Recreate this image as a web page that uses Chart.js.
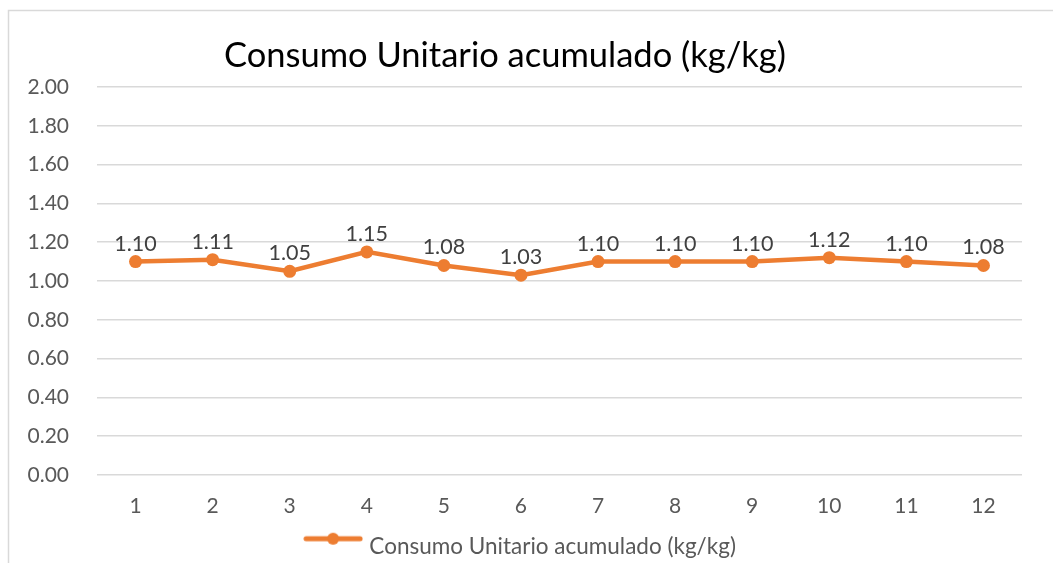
<!DOCTYPE html>
<html>
<head>
<meta charset="utf-8">
<script src="https://cdn.jsdelivr.net/npm/chart.js@4/dist/chart.umd.min.js"></script>
<style>
  html, body { margin: 0; padding: 0; background: #ffffff; }
  #wrap { width: 1053px; height: 563px; position: relative; overflow: hidden; }
</style>
</head>
<body>
<div id="wrap"><canvas id="c" width="1053" height="563"></canvas></div>
<script>
// Monthly accumulated unit consumption (kg/kg)
const categories = ['1', '2', '3', '4', '5', '6', '7', '8', '9', '10', '11', '12'];
const consumo = [1.10, 1.11, 1.05, 1.15, 1.08, 1.03, 1.10, 1.10, 1.10, 1.12, 1.10, 1.08];
const seriesName = 'Consumo Unitario acumulado (kg/kg)';
const chartTitle = 'Consumo Unitario acumulado (kg/kg)';
const yMin = 0, yMax = 2, yStep = 0.2;

const ORANGE = '#ED7D31';
const GRID = '#d9d9d9';
const FONT = 'Lato, "Open Sans", sans-serif';

// legend swatch: short line with a dot, drawn a little above the image centre
function legendSwatch() {
  const c = document.createElement('canvas');
  c.width = 60; c.height = 30;
  const g = c.getContext('2d');
  g.strokeStyle = ORANGE; g.lineWidth = 5; g.lineCap = 'round';
  g.beginPath(); g.moveTo(3, 7); g.lineTo(57, 7); g.stroke();
  g.fillStyle = ORANGE;
  g.beginPath(); g.arc(30, 7, 6, 0, Math.PI * 2); g.fill();
  return c;
}

const framePlugin = {
  id: 'frame',
  beforeDraw(chart) {
    const ctx = chart.ctx;
    ctx.save();
    ctx.fillStyle = '#ffffff';
    ctx.fillRect(0, 0, chart.width, chart.height);
    ctx.strokeStyle = GRID;
    ctx.lineWidth = 1.5;
    ctx.strokeRect(8.5, 10.5, 1200, 700);
    ctx.restore();
  }
};

// nudge the legend box right and down so the entry sits under the middle of the plot
const legendShift = {
  id: 'legendShift',
  afterLayout(chart) {
    const lg = chart.legend;
    if (lg) {
      lg.left += 11; lg.right += 11;
      lg.top += 5; lg.bottom += 5;
    }
  }
};

const titlePlugin = {
  id: 'topTitle',
  afterDraw(chart) {
    const ctx = chart.ctx;
    ctx.save();
    ctx.font = '34.5px ' + FONT;
    ctx.fillStyle = '#000000';
    ctx.textAlign = 'center';
    ctx.textBaseline = 'alphabetic';
    ctx.fillText(chartTitle, 505, 67);
    ctx.restore();
  }
};

const valueLabels = {
  id: 'valueLabels',
  afterDatasetsDraw(chart) {
    const ctx = chart.ctx;
    const meta = chart.getDatasetMeta(0);
    const data = chart.data.datasets[0].data;
    ctx.save();
    ctx.font = '21.5px ' + FONT;
    ctx.fillStyle = '#404040';
    ctx.textAlign = 'center';
    ctx.textBaseline = 'middle';
    meta.data.forEach((pt, i) => {
      ctx.fillText(data[i].toFixed(2), pt.x, pt.y - 18);
    });
    ctx.restore();
  }
};

new Chart(document.getElementById('c'), {
  type: 'line',
  data: {
    labels: categories,
    datasets: [{
      label: seriesName,
      data: consumo,
      borderColor: ORANGE,
      backgroundColor: ORANGE,
      borderWidth: 4.5,
      pointStyle: 'circle',
      pointRadius: 6.5,
      pointHoverRadius: 6.5,
      pointBackgroundColor: ORANGE,
      pointBorderColor: ORANGE,
      pointBorderWidth: 0,
      tension: 0
    }]
  },
  options: {
    responsive: false,
    animation: false,
    layout: { padding: { left: 0, right: 31, top: 87, bottom: 0 } },
    plugins: {
      title: { display: false },
      tooltip: { enabled: false },
      legend: {
        display: true,
        position: 'bottom',
        labels: {
          usePointStyle: true,
          pointStyleWidth: 50,
          padding: 5,
          color: '#595959',
          font: { family: FONT, size: 22.5 },
          generateLabels() {
            return [{
              text: seriesName,
              pointStyle: legendSwatch(),
              fillStyle: ORANGE,
              strokeStyle: ORANGE,
              lineWidth: 0,
              fontColor: '#595959',
              datasetIndex: 0,
              hidden: false
            }];
          }
        }
      }
    },
    scales: {
      x: {
        offset: true,
        grid: { display: false, drawTicks: false },
        border: { display: false },
        ticks: { color: '#595959', font: { family: FONT, size: 21 }, padding: 19 },
        afterFit(scale) { scale.height = 50.5; }
      },
      y: {
        min: yMin, max: yMax,
        grid: { color: GRID, lineWidth: 1.5, drawTicks: false },
        border: { display: false },
        ticks: {
          stepSize: yStep,
          color: '#595959',
          font: { family: FONT, size: 21 },
          padding: 28,
          callback: v => Number(v).toFixed(2)
        },
        afterFit(scale) { scale.width = 97; }
      }
    }
  },
  plugins: [framePlugin, legendShift, valueLabels, titlePlugin]
});
</script>
</body>
</html>
